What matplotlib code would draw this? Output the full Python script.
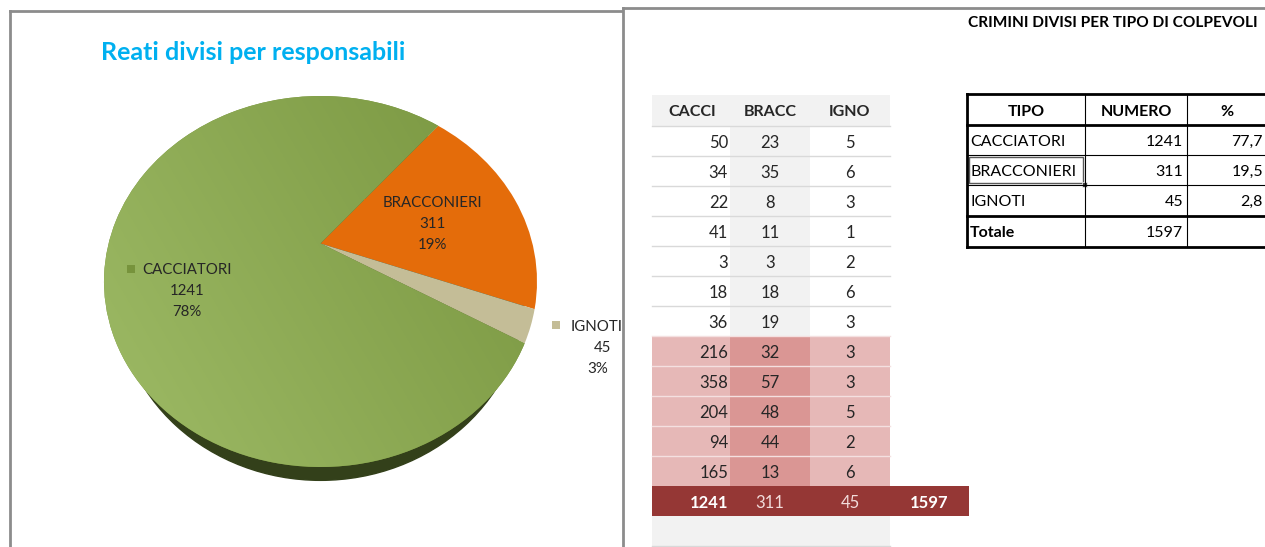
import numpy as np
import matplotlib
matplotlib.use("Agg")
import matplotlib.pyplot as plt
import matplotlib.transforms as mtransforms
from matplotlib.patches import Rectangle, Ellipse

plt.rcParams['font.family'] = ['Lato', 'DejaVu Sans']

# ---- data ----
categories = ['CACCIATORI', 'BRACCONIERI', 'IGNOTI']
short_names = ['CACCI', 'BRACC', 'IGNO']
cacci = [50, 34, 22, 41, 3, 18, 36, 216, 358, 204, 94, 165]
bracc = [23, 35, 8, 11, 3, 18, 19, 32, 57, 48, 44, 13]
igno = [5, 6, 3, 1, 2, 6, 3, 3, 3, 5, 2, 6]
totals = [sum(cacci), sum(bracc), sum(igno)]
grand_total = sum(totals)
slice_colors = ['#77933c', '#e46c0a', '#c4bd97']

chart_title = 'Reati divisi per responsabili'
sheet_title = 'CRIMINI DIVISI PER TIPO DI COLPEVOLI'
summary_header = ['TIPO', 'NUMERO', '%']

W, H = 1265, 547
TEXT = '#262626'


class TiltTransform(mtransforms.Transform):
    """Perspective tilt of the unit disc (keeps the disc, moves its centre up)."""
    input_dims = 2
    output_dims = 2

    def __init__(self, t):
        super().__init__()
        self.t = t

    def transform_non_affine(self, values):
        v = np.asarray(values, dtype=float)
        x, y = v[:, 0], v[:, 1]
        d = 1 + self.t * y
        return np.column_stack([x * np.sqrt(1 - self.t ** 2) / d, (y + self.t) / d])


fig = plt.figure(figsize=(W / 100, H / 100), dpi=100)

# background axes in pixel coordinates
ax = fig.add_axes([0, 0, 1, 1])
ax.set_xlim(0, W)
ax.set_ylim(H, 0)
ax.axis('off')
ax.plot([10, 10], [11, H + 5], color='#8c8c8c', lw=2)
ax.plot([10, 623], [11, 11], color='#8c8c8c', lw=2)
ax.text(101, 53, chart_title, color='#00b0f0', fontsize=18, fontweight='bold',
        ha='left', va='center')

# ---- pie (3D-looking, tilted) ----
cx, cy, a, b = 320.5, 281.5, 216.5, 185.5
pax = fig.add_axes([(cx - a) / W, (H - cy - b) / H, 2 * a / W, 2 * b / H])
pax.patch.set_visible(False)

start = 50 + 360 * totals[0] / grand_total
wedges, _ = pax.pie(totals, colors=slice_colors, startangle=start,
                    counterclock=False, wedgeprops=dict(linewidth=0))
tilt = TiltTransform(0.205)
for w in wedges:
    w.set_transform(tilt + pax.transData)
    w.set_clip_on(False)
    w.set_zorder(2)

# side of the pie
side = Ellipse((0, -0.072), 1.88, 2.0, color='#33401a', transform=pax.transData,
               zorder=1, clip_on=False)
pax.add_patch(side)

# shading on the big green slice
gx, gy = np.meshgrid(np.linspace(-1, 1, 300), np.linspace(1, -1, 300))
shade = np.clip(0.6 * (-gx) + 0.3 * (-gy) + 0.1, -1, 1)
light = np.array([0x9e, 0xbb, 0x66]) / 255
dark = np.array([0x74, 0x91, 0x3b]) / 255
tt = ((shade + 1) / 2)[..., None]
img = dark * (1 - tt) + light * tt
im = pax.imshow(img, extent=(-1, 1, -1, 1), aspect='auto', zorder=3)
im.set_clip_path(wedges[0])
pax.set_xlim(-1, 1)
pax.set_ylim(-1, 1)
pax.set_aspect('auto')
pax.axis('off')

# data labels
label_pos = [(187, 270), (432, 203), (597, 327)]
for i, (lx, ly) in enumerate(label_pos):
    pct = 100 * totals[i] / grand_total
    pax.text(lx, ly, categories[i], transform=ax.transData, ha='center', va='center',
             fontsize=10.8, color=TEXT, clip_on=False, zorder=5)
    pax.text(lx + (5 if i == 2 else 0), ly + 21, f'{totals[i]}', transform=ax.transData,
             ha='center', va='center', fontsize=10.8, color=TEXT, clip_on=False, zorder=5)
    pax.text(lx + (1 if i == 2 else 0), ly + 42, f'{pct:.0f}%', transform=ax.transData,
             ha='center', va='center', fontsize=10.8, color=TEXT, clip_on=False, zorder=5)
key_pos = [(127, 265), (364, 199), (552, 321)]
for i, (kx, ky) in enumerate(key_pos):
    pax.add_patch(Rectangle((kx, ky), 8, 8, facecolor=slice_colors[i], edgecolor='none',
                            transform=ax.transData, clip_on=False, zorder=4))

# ---- spreadsheet panel ----
px0, py0 = 623, 8
tax = fig.add_axes([px0 / W, 0, (W - px0) / W, (H - py0) / H])
tax.set_xlim(px0, W)
tax.set_ylim(H, py0)
tax.set_facecolor('white')
tax.set_xticks([])
tax.set_yticks([])
for s in ['right', 'bottom']:
    tax.spines[s].set_visible(False)
for s in ['left', 'top']:
    tax.spines[s].set_color('#8c8c8c')
    tax.spines[s].set_linewidth(2)

tax.text(968, 23, sheet_title, fontsize=11.1, fontweight='bold', color='black',
         ha='left', va='center')

col_edges = [652, 730, 810, 890, 969]
row_h = 30
head_top, head_bot = 95, 126
n_rows = len(cacci)
hl_from = 7
dy = 1.5

# header row
tax.add_patch(Rectangle((col_edges[0], head_top), col_edges[3] - col_edges[0],
                        head_bot - head_top, facecolor='#f2f2f2', edgecolor='none'))
head_x = [692, 770, 850]
for x, name in zip(head_x, short_names):
    tax.text(x, 111 + dy, name, fontsize=11.5, fontweight='bold', color=TEXT,
             ha='center', va='center')

for i in range(n_rows):
    y0 = head_bot + i * row_h
    hl = i >= hl_from
    for j in range(3):
        if hl:
            fc = '#da9694' if j == 1 else '#e6b8b7'
        else:
            fc = '#f2f2f2' if j == 1 else 'white'
        tax.add_patch(Rectangle((col_edges[j], y0), col_edges[j + 1] - col_edges[j],
                                row_h, facecolor=fc, edgecolor='none'))
    line_c = '#f4e0e0' if hl else '#d9d9d9'
    tax.plot([col_edges[0], col_edges[3]], [y0, y0], color=line_c, lw=1)
    yc = y0 + row_h / 2 + dy
    tax.text(728, yc, f'{cacci[i]}', fontsize=12, color=TEXT, ha='right', va='center')
    tax.text(770, yc, f'{bracc[i]}', fontsize=12, color=TEXT, ha='center', va='center')
    tax.text(850, yc, f'{igno[i]}', fontsize=12, color=TEXT, ha='center', va='center')

# totals row
ty0 = head_bot + n_rows * row_h
tax.add_patch(Rectangle((col_edges[0], ty0), col_edges[4] - col_edges[0], row_h,
                        facecolor='#953735', edgecolor='none'))
tyc = ty0 + row_h / 2 + dy
tax.text(728, tyc, f'{totals[0]}', fontsize=12, fontweight='bold', color='white',
         ha='right', va='center')
tax.text(770, tyc, f'{totals[1]}', fontsize=12, color='#f2dcdb', ha='center', va='center')
tax.text(850, tyc, f'{totals[2]}', fontsize=12, color='#f2dcdb', ha='center', va='center')
tax.text(929, tyc, f'{grand_total}', fontsize=12, fontweight='bold', color='white',
         ha='center', va='center')

# empty row below
by0 = ty0 + row_h
tax.add_patch(Rectangle((col_edges[0], by0), col_edges[3] - col_edges[0], row_h,
                        facecolor='#f2f2f2', edgecolor='none'))
tax.plot([col_edges[0], col_edges[3]], [by0 + row_h, by0 + row_h], color='#d9d9d9', lw=1)

# ---- summary table ----
sx = [967, 1085, 1187, 1268]
sy = [94, 125, 155, 185, 216, 247]
for y in sy[2:4]:
    tax.plot([sx[0], sx[3]], [y, y], color='black', lw=0.8)
for x in sx[1:3]:
    tax.plot([x, x], [sy[0], sy[-1]], color='black', lw=0.8)
for y in [sy[0], sy[1], sy[4], sy[5]]:
    tax.plot([sx[0], sx[3]], [y, y], color='black', lw=2)
tax.plot([sx[0], sx[0]], [sy[0], sy[-1]], color='black', lw=2)
# selected cell
tax.add_patch(Rectangle((sx[0] + 2, sy[2] + 2), sx[1] - sx[0] - 4, sy[3] - sy[2] - 4,
                        facecolor='none', edgecolor='#595959', lw=1))
tax.add_patch(Rectangle((sx[1] - 3, sy[3] - 3), 5, 5, facecolor='#404040',
                        edgecolor='white', lw=0.5))

head_cx = [1026, 1136, 1227]
for x, name in zip(head_cx, summary_header):
    tax.text(x, 110 + dy, name, fontsize=11.5, fontweight='bold', color='black',
             ha='center', va='center')
for i, name in enumerate(categories):
    yc = (sy[i + 1] + sy[i + 2]) / 2 + dy
    share = f'{100 * totals[i] / grand_total:.1f}'.replace('.', ',')
    tax.text(970, yc, name, fontsize=11.5, color='black', ha='left', va='center')
    tax.text(1183, yc, f'{totals[i]}', fontsize=11.5, color='black', ha='right', va='center')
    tax.text(1263, yc, share, fontsize=11.5, color='black', ha='right', va='center')
yc = (sy[4] + sy[5]) / 2 + dy
tax.text(970, yc, 'Totale', fontsize=11.5, fontweight='bold', color='black',
         ha='left', va='center')
tax.text(1183, yc, f'{grand_total}', fontsize=11.5, color='black', ha='right', va='center')

fig.savefig('out.png', dpi=100)
